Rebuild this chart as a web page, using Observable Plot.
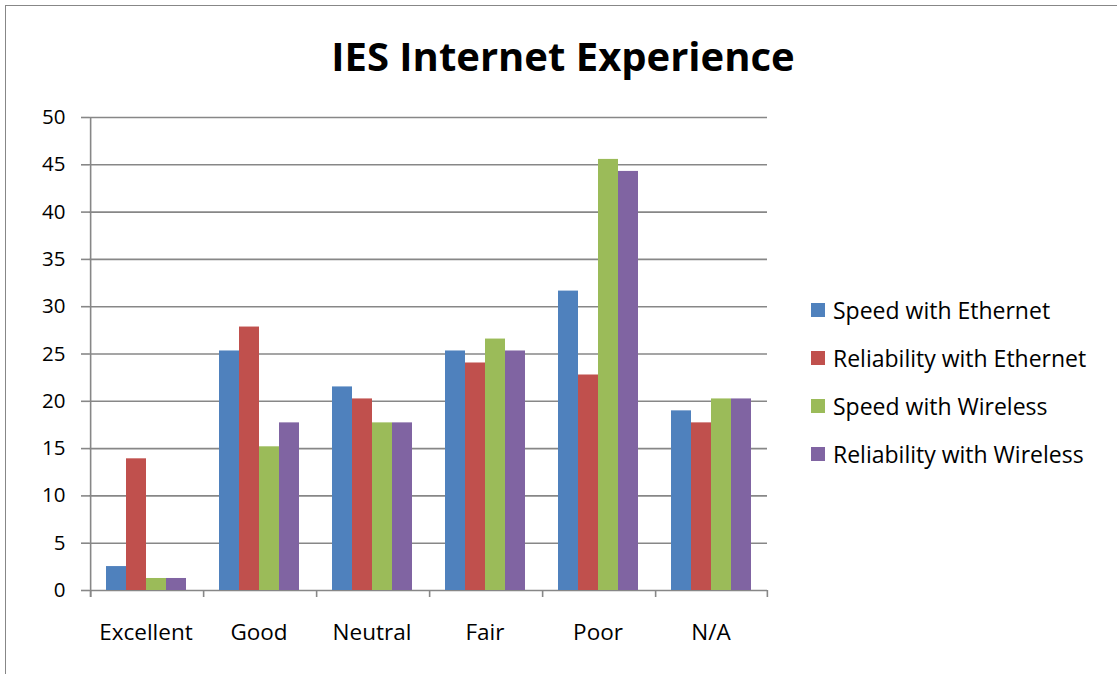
<!DOCTYPE html>
<html><head><meta charset="utf-8">
<script src="https://cdn.jsdelivr.net/npm/d3@7"></script>
<script src="https://cdn.jsdelivr.net/npm/@observablehq/plot@0.6"></script>
<style>
body{margin:0;background:#fff;}
#wrap{position:relative;width:1117px;height:674px;overflow:hidden;font-family:"Open Sans",sans-serif;background:#fff;}
#border{position:absolute;left:5px;top:5px;width:1200px;height:800px;border:1.5px solid #878787;box-sizing:border-box;}
#title{position:absolute;top:26px;left:0;width:1126px;text-align:center;font-size:40px;font-weight:700;color:#000;line-height:60px;}
#chart{position:absolute;left:0;top:0;}
#legend{position:absolute;left:811px;top:286px;font-size:23px;color:#000;}
#legend .row{display:flex;align-items:center;height:48px;margin-top:0;white-space:nowrap;}
#legend .sw{width:14px;height:14px;margin-right:8px;flex:none;}
</style>
</head><body>
<div id="wrap">
  <div id="border"></div>
  <div id="chart"></div>
  <div id="title">IES Internet Experience</div>
  <div id="legend"></div>
</div>
<script>
const categories = ["Excellent", "Good", "Neutral", "Fair", "Poor", "N/A"];
const seriesNames = ["Speed with Ethernet", "Reliability with Ethernet", "Speed with Wireless", "Reliability with Wireless"];
const seriesColors = ["#4F81BD", "#C0504D", "#9BBB59", "#8064A2"];
const speedEthernet = [2.53, 25.32, 21.52, 25.32, 31.65, 18.99];
const reliabilityEthernet = [13.92, 27.85, 20.25, 24.05, 22.78, 17.72];
const speedWireless = [1.27, 15.19, 17.72, 26.58, 45.57, 20.25];
const reliabilityWireless = [1.27, 17.72, 17.72, 25.32, 44.30, 20.25];
const yTicks = [0, 5, 10, 15, 20, 25, 30, 35, 40, 45, 50];

const seriesValues = [speedEthernet, reliabilityEthernet, speedWireless, reliabilityWireless];
const data = [];
categories.forEach((c, i) => seriesNames.forEach((s, j) => data.push({category: c, series: s, value: seriesValues[j][i]})));

const W = 1117, H = 674;
const mLeft = 88, mRight = 349, mTop = 117, mBottom = 84;
const outerPad = 0.76;
const facetW = (W - mLeft - mRight) / categories.length;
const step = facetW / (seriesNames.length + 2 * outerPad);
const edgeDx = -(outerPad * step + step / 2);
const gray = "#878787";
const tickUnits = 7 / ((H - mTop - mBottom) / 50);

const boundaries = categories.map(c => ({category: c}));

const chart = Plot.plot({
  width: W, height: H,
  marginLeft: mLeft, marginRight: mRight, marginTop: mTop, marginBottom: mBottom,
  style: {fontFamily: "'Open Sans', sans-serif", background: "transparent"},
  fx: {domain: categories, padding: 0, label: null, axis: null},
  x: {domain: seriesNames, paddingInner: 0, paddingOuter: outerPad, axis: null},
  y: {domain: [0, 50], axis: null},
  color: {domain: seriesNames, range: seriesColors},
  marks: [
    Plot.ruleY(yTicks, {stroke: gray, strokeWidth: 1.6}),
    Plot.barY(data, {fx: "category", x: "series", y: "value", fill: "series"}),
    // y axis line
    Plot.ruleX([{category: categories[0]}], {fx: "category", x: () => seriesNames[0], dx: edgeDx, y1: -tickUnits, y2: 50, stroke: gray, strokeWidth: 1.6}),
    // category boundary ticks
    Plot.ruleX(boundaries, {fx: "category", x: () => seriesNames[0], dx: edgeDx, y1: -tickUnits, y2: 0, stroke: gray, strokeWidth: 1.6}),
    Plot.ruleX([{category: categories[categories.length - 1]}], {fx: "category", x: () => seriesNames[seriesNames.length - 1], dx: -edgeDx, y1: -tickUnits, y2: 0, stroke: gray, strokeWidth: 1.6}),
    Plot.axisY(yTicks, {tickSize: 8, tickPadding: 16, fontSize: 20.5, stroke: gray, strokeWidth: 1.6, fill: "#000", label: null}),
    Plot.axisFx({anchor: "bottom", tickSize: 0, tickPadding: 34, fontSize: 22.5, fill: "#000", label: null})
  ]
});
document.getElementById("chart").appendChild(chart);

const legend = document.getElementById("legend");
seriesNames.forEach((s, i) => {
  const row = document.createElement("div");
  row.className = "row";
  const sw = document.createElement("div");
  sw.className = "sw";
  sw.style.background = seriesColors[i];
  const t = document.createElement("span");
  t.textContent = s;
  row.appendChild(sw); row.appendChild(t);
  legend.appendChild(row);
});
</script>
</body></html>
